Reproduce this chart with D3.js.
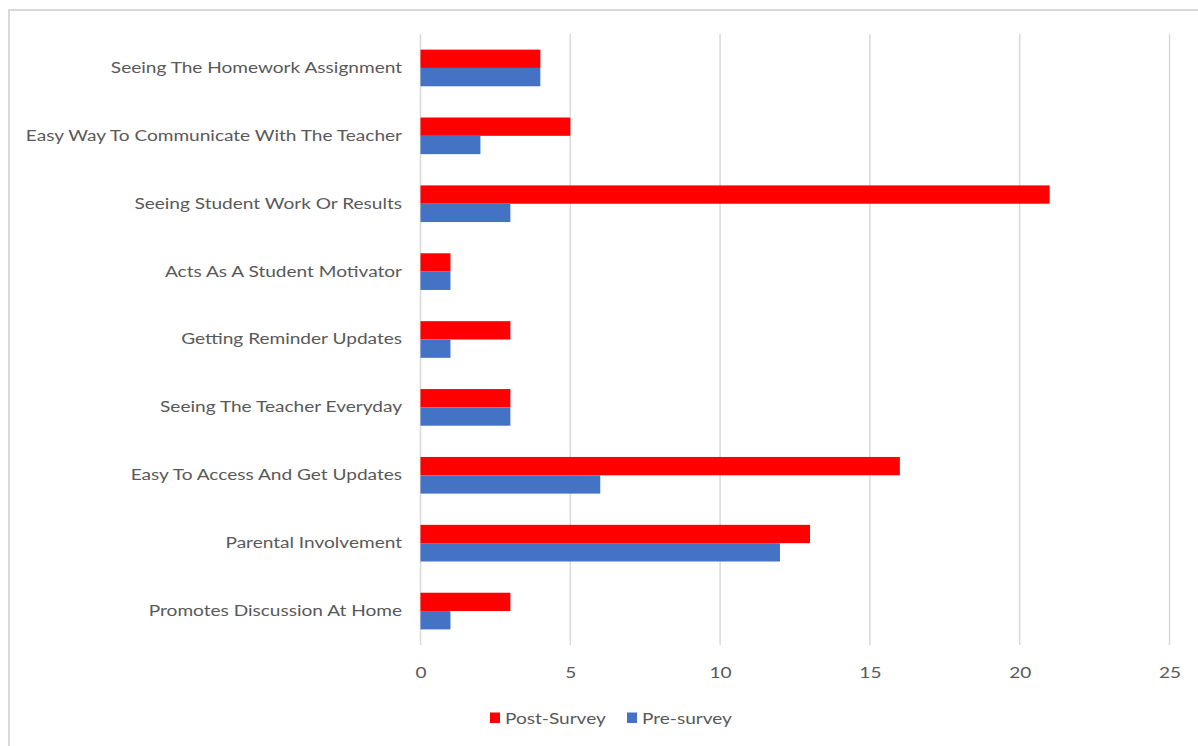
<!DOCTYPE html>
<html><head><meta charset="utf-8">
<script src="https://cdn.jsdelivr.net/npm/d3@7"></script>
<style>body{margin:0;background:#fff;}svg{display:block;}</style>
</head><body>
<script>
const categories = ["Seeing The Homework Assignment","Easy Way To Communicate With The Teacher","Seeing Student Work Or Results","Acts As A Student Motivator","Getting Reminder Updates","Seeing The Teacher Everyday","Easy To Access And Get Updates","Parental Involvement","Promotes Discussion At Home"];
const postSurvey = [4,5,21,1,3,3,16,13,3];
const preSurvey = [4,2,3,1,1,3,6,12,1];
const seriesNames = ["Post-Survey","Pre-survey"];
const xTicks = [0,5,10,15,20,25];

const W=1198,H=746;
const SX=1.23;
const svg=d3.select("body").append("svg").attr("width",W).attr("height",H);
svg.append("rect").attr("x",9).attr("y",10).attr("width",W).attr("height",H).attr("fill","#fff").attr("stroke","#d9d9d9").attr("stroke-width",2);

const font="Lato, 'Open Sans', sans-serif";
const fs=15.5;
const x=d3.scaleLinear().domain([0,25]).range([420.5,1169.5]);
const y=d3.scaleBand().domain(categories).range([34,645]).paddingInner(0.46).paddingOuter(0.23);
const sub=d3.scaleBand().domain(seriesNames).range([0,y.bandwidth()]);
const colors={"Post-Survey":"#ff0000","Pre-survey":"#4472c4"};

const g=svg.append("g");
g.selectAll(".grid").data(xTicks).join("line")
 .attr("x1",d=>x(d)).attr("x2",d=>x(d)).attr("y1",34).attr("y2",645)
 .attr("stroke","#d9d9d9").attr("stroke-width",1.5);

const rows=categories.map((c,i)=>({c,vals:[{s:"Post-Survey",v:postSurvey[i]},{s:"Pre-survey",v:preSurvey[i]}]}));
const rg=g.selectAll(".row").data(rows).join("g").attr("transform",d=>`translate(0,${y(d.c)})`);
rg.selectAll("rect").data(d=>d.vals).join("rect")
 .attr("x",x(0)).attr("y",d=>sub(d.s)).attr("height",sub.bandwidth())
 .attr("width",d=>x(d.v)-x(0)).attr("fill",d=>colors[d.s]);

const yAxis=d3.axisLeft(y).tickSize(0).tickPadding(18.5);
const ya=svg.append("g").attr("transform",`translate(${x(0)},0)`).call(yAxis);
ya.select(".domain").remove();
ya.selectAll("text").attr("font-family",font).attr("font-size",fs).attr("fill","#595959")
  .attr("x",-18.5/SX).attr("transform",`scale(${SX},1)`);

const xAxis=d3.axisBottom(x).tickValues(xTicks).tickSize(0).tickPadding(0);
const xa=svg.append("g").attr("transform",`translate(0,667)`).call(xAxis);
xa.select(".domain").remove();
xa.selectAll("text").attr("font-family",font).attr("font-size",fs).attr("fill","#595959")
  .attr("transform",`scale(${SX},1)`);

const leg=svg.append("g");
const legX=[490,627];
seriesNames.forEach((s,i)=>{
  leg.append("rect").attr("x",legX[i]).attr("y",712.5).attr("width",10).attr("height",10.5).attr("fill",colors[s]);
  leg.append("g").attr("transform",`translate(${legX[i]+15},719)`)
    .append("text").attr("dy","0.35em").attr("transform",`scale(${SX},1)`)
    .attr("font-family",font).attr("font-size",fs).attr("fill","#595959").text(s);
});
</script>
</body></html>
